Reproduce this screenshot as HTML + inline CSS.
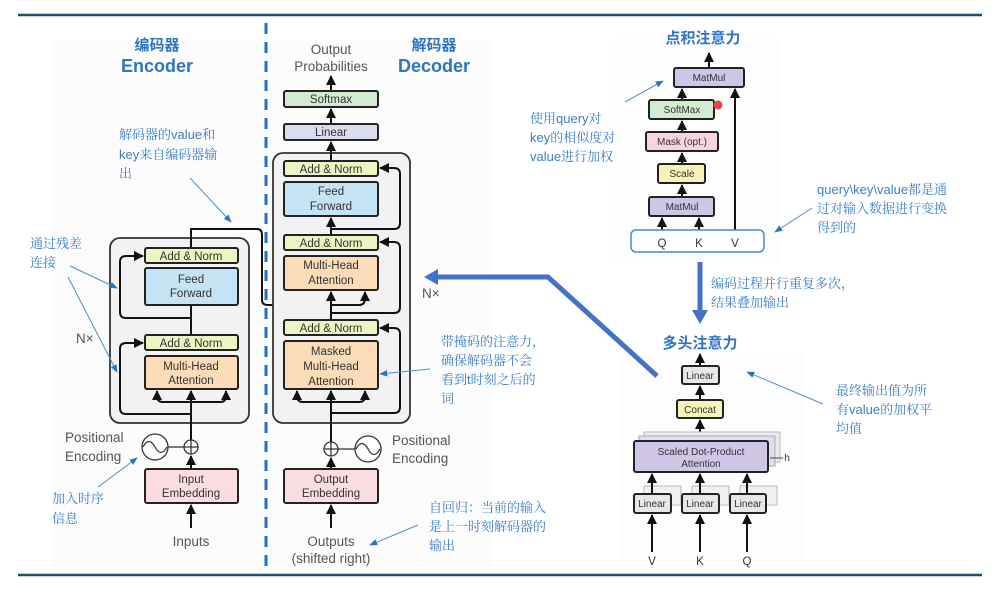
<!DOCTYPE html>
<html><head><meta charset="utf-8"><style>
html,body{margin:0;padding:0;background:#fff;}
svg{display:block;}
.b{font-family:"Liberation Sans",sans-serif;font-size:11.5px;fill:#333;text-anchor:middle;}
.s{font-family:"Liberation Sans",sans-serif;font-size:10px;fill:#333;text-anchor:middle;}
.g{font-family:"Liberation Sans",sans-serif;font-size:13.5px;fill:#555;}
.cn{font-family:"Liberation Sans","Noto Serif CJK SC","Noto Sans CJK SC",sans-serif;font-size:13px;fill:#3a7ec8;}
.t{font-family:"Liberation Sans","Noto Sans CJK SC",sans-serif;font-weight:bold;fill:#2e74c0;text-anchor:middle;}
.bx{stroke:#222;stroke-width:2;}
.ln{stroke:#111;stroke-width:2;fill:none;}
.an{stroke:#4a8fd6;stroke-width:1;fill:none;}
</style></head><body>
<svg width="999" height="593" viewBox="0 0 999 593" xmlns="http://www.w3.org/2000/svg">
<defs>
<marker id="a" viewBox="0 0 10 10" refX="9" refY="5" markerWidth="5" markerHeight="5" orient="auto"><path d="M0,0L10,5L0,10z" fill="#111"/></marker>
<marker id="ab" viewBox="0 0 10 10" refX="9" refY="5" markerWidth="8" markerHeight="8" orient="auto"><path d="M0,1L10,5L0,9z" fill="#2a72c8"/></marker>
<marker id="ak" viewBox="0 0 10 10" refX="5" refY="5" markerWidth="4" markerHeight="4" orient="auto"><path d="M0,0L10,5L0,10z" fill="#4472c4"/></marker>
</defs>
<rect x="53" y="40" width="434" height="528" fill="#fbfbfb"/>
<rect x="118" y="40" width="372" height="528" fill="#fcfcfc"/>
<rect x="615" y="38" width="164" height="226" fill="#fdfdfd"/>
<rect x="620" y="352" width="184" height="208" fill="#fdfdfd"/>
<line x1="18" y1="15" x2="982" y2="15" stroke="#1c4f74" stroke-width="2.5"/>
<line x1="18" y1="575" x2="982" y2="575" stroke="#1c4f74" stroke-width="2.5"/>
<line x1="266" y1="23" x2="266" y2="568" stroke="#1f6fc8" stroke-width="3" stroke-dasharray="11,8"/>

<!-- Encoder -->
<text x="157" y="50" class="t" font-size="15">编码器</text>
<text x="157" y="72" class="t" font-size="18">Encoder</text>
<rect x="110" y="238" width="139" height="185" rx="10" fill="#f2f2f2" stroke="#333" stroke-width="1.8"/>
<path class="ln" d="M191,248 V229 H257 Q262,229 262,235 V300 Q262,305 268,305 H290 Q297,305 297,298 V292" marker-end="url(#a)"/>
<path class="ln" d="M191,318 H126 Q120,318 120,312 V262 Q120,256 126,256 H143" marker-end="url(#a)"/>
<path class="ln" d="M191,414 H126 Q120,414 120,408 V349 Q120,343 126,343 H143" marker-end="url(#a)"/>
<line class="ln" x1="191" y1="440" x2="191" y2="391" marker-end="url(#a)"/>
<path class="ln" d="M191,402 H163 Q157,402 157,396 V391" marker-end="url(#a)"/>
<path class="ln" d="M191,402 H220 Q226,402 226,396 V391" marker-end="url(#a)"/>
<line class="ln" x1="191" y1="335" x2="191" y2="305"/>
<rect class="bx" x="145" y="248" width="93" height="15" rx="2" fill="#eef3c4"/><text x="191" y="260" class="b">Add &amp; Norm</text>
<rect class="bx" x="145" y="268" width="93" height="37" rx="2" fill="#c4e4f5"/><text x="191" y="283" class="b">Feed</text><text x="191" y="297" class="b">Forward</text>
<rect class="bx" x="145" y="335" width="93" height="15" rx="2" fill="#eef3c4"/><text x="191" y="347" class="b">Add &amp; Norm</text>
<rect class="bx" x="145" y="356" width="93" height="33" rx="2" fill="#fbdcb8"/><text x="191" y="370" class="b">Multi-Head</text><text x="191" y="384" class="b">Attention</text>
<text x="76" y="343" class="g">N×</text>
<circle cx="191" cy="447" r="7" fill="#fff" stroke="#333" stroke-width="1.3"/><path d="M184,447H198M191,440V454" stroke="#333" stroke-width="1.3"/>
<line x1="168" y1="447" x2="184" y2="447" stroke="#333" stroke-width="1.3"/>
<circle cx="155" cy="447" r="13" fill="#fff" stroke="#333" stroke-width="1.3"/><path d="M143,447 Q149,436 155,447 T167,447" stroke="#333" fill="none" stroke-width="1.3"/>
<text x="65" y="442" class="g">Positional</text><text x="65" y="461" class="g">Encoding</text>
<line class="ln" x1="191" y1="469" x2="191" y2="456" marker-end="url(#a)"/>
<rect class="bx" x="145" y="469" width="93" height="34" rx="2" fill="#f9dde0"/><text x="191" y="483" class="b">Input</text><text x="191" y="497" class="b">Embedding</text>
<line class="ln" x1="191" y1="528" x2="191" y2="505" marker-end="url(#a)"/>
<text x="191" y="546" class="g" text-anchor="middle">Inputs</text>

<!-- Decoder -->
<text x="331" y="54" class="g" text-anchor="middle">Output</text>
<text x="331" y="71" class="g" text-anchor="middle">Probabilities</text>
<text x="434" y="50" class="t" font-size="15">解码器</text>
<text x="434" y="72" class="t" font-size="18">Decoder</text>
<rect x="273" y="153" width="137" height="270" rx="10" fill="#f2f2f2" stroke="#333" stroke-width="1.8"/>
<line class="ln" x1="331" y1="91" x2="331" y2="76" marker-end="url(#a)"/>
<line class="ln" x1="331" y1="124" x2="331" y2="109" marker-end="url(#a)"/>
<line class="ln" x1="331" y1="161" x2="331" y2="142" marker-end="url(#a)"/>
<line class="ln" x1="331" y1="235" x2="331" y2="218" marker-end="url(#a)"/>
<line class="ln" x1="331" y1="320" x2="331" y2="305"/>
<path class="ln" d="M331,305 H359 Q365,305 365,298 V292" marker-end="url(#a)"/>
<line class="ln" x1="331" y1="305" x2="331" y2="292" marker-end="url(#a)"/>
<path class="ln" d="M331,229 H394 Q400,229 400,223 V174 Q400,168 394,168 H380" marker-end="url(#a)"/>
<path class="ln" d="M331,313 H394 Q400,313 400,307 V248 Q400,242 394,242 H380" marker-end="url(#a)"/>
<path class="ln" d="M331,413 H394 Q400,413 400,407 V334 Q400,328 394,328 H380" marker-end="url(#a)"/>
<line class="ln" x1="331" y1="442" x2="331" y2="391" marker-end="url(#a)"/>
<path class="ln" d="M331,402 H303 Q297,402 297,396 V391" marker-end="url(#a)"/>
<path class="ln" d="M331,402 H359 Q365,402 365,396 V391" marker-end="url(#a)"/>
<rect class="bx" x="284" y="91" width="94" height="16" rx="2" fill="#d3ebd3"/><text x="331" y="103" class="b">Softmax</text>
<rect class="bx" x="284" y="124" width="94" height="16" rx="2" fill="#dcdcf0"/><text x="331" y="136" class="b">Linear</text>
<rect class="bx" x="284" y="161" width="94" height="15" rx="2" fill="#eef3c4"/><text x="331" y="173" class="b">Add &amp; Norm</text>
<rect class="bx" x="284" y="182" width="94" height="34" rx="2" fill="#c4e4f5"/><text x="331" y="195" class="b">Feed</text><text x="331" y="210" class="b">Forward</text>
<rect class="bx" x="284" y="235" width="94" height="15" rx="2" fill="#eef3c4"/><text x="331" y="247" class="b">Add &amp; Norm</text>
<rect class="bx" x="284" y="256" width="94" height="34" rx="2" fill="#fbdcb8"/><text x="331" y="269" class="b">Multi-Head</text><text x="331" y="284" class="b">Attention</text>
<rect class="bx" x="284" y="320" width="94" height="15" rx="2" fill="#eef3c4"/><text x="331" y="332" class="b">Add &amp; Norm</text>
<rect class="bx" x="284" y="341" width="94" height="48" rx="2" fill="#fbdcb8"/><text x="331" y="355" class="b">Masked</text><text x="331" y="370" class="b">Multi-Head</text><text x="331" y="385" class="b">Attention</text>
<text x="422" y="298" class="g">N×</text>
<circle cx="331" cy="449" r="7" fill="#fff" stroke="#333" stroke-width="1.3"/><path d="M324,449H338M331,442V456" stroke="#333" stroke-width="1.3"/>
<line x1="338" y1="449" x2="355" y2="449" stroke="#333" stroke-width="1.3"/>
<circle cx="368" cy="449" r="13" fill="#fff" stroke="#333" stroke-width="1.3"/><path d="M356,449 Q362,438 368,449 T380,449" stroke="#333" fill="none" stroke-width="1.3"/>
<text x="392" y="445" class="g">Positional</text><text x="392" y="463" class="g">Encoding</text>
<line class="ln" x1="331" y1="469" x2="331" y2="458" marker-end="url(#a)"/>
<rect class="bx" x="284" y="469" width="94" height="34" rx="2" fill="#f9dde0"/><text x="331" y="483" class="b">Output</text><text x="331" y="497" class="b">Embedding</text>
<line class="ln" x1="331" y1="528" x2="331" y2="505" marker-end="url(#a)"/>
<text x="331" y="546" class="g" text-anchor="middle">Outputs</text>
<text x="331" y="563" class="g" text-anchor="middle">(shifted right)</text>

<!-- big blue arrows -->
<path d="M657,376 L548,277 H436" stroke="#4472c4" stroke-width="5" fill="none"/>
<path d="M424,277 L438,269 V285 Z" fill="#4472c4"/>
<line x1="700" y1="262" x2="700" y2="312" stroke="#4472c4" stroke-width="5"/>
<path d="M692,310 H708 L700,324 Z" fill="#4472c4"/>

<!-- dot product -->
<text x="703" y="43" class="t" font-size="15">点积注意力</text>
<line class="ln" x1="709" y1="68" x2="709" y2="53" marker-end="url(#a)"/>
<line class="ln" x1="682" y1="100" x2="682" y2="89" marker-end="url(#a)"/>
<line class="ln" x1="682" y1="132" x2="682" y2="121" marker-end="url(#a)"/>
<line class="ln" x1="682" y1="164" x2="682" y2="153" marker-end="url(#a)"/>
<line class="ln" x1="682" y1="197" x2="682" y2="185" marker-end="url(#a)"/>
<line class="ln" x1="662" y1="235" x2="662" y2="218" marker-end="url(#a)"/>
<line class="ln" x1="699" y1="235" x2="699" y2="218" marker-end="url(#a)"/>
<line class="ln" x1="735" y1="235" x2="735" y2="89" marker-end="url(#a)"/>
<rect class="bx" x="674" y="68" width="70" height="19" rx="2" fill="#cfc6e6"/><text x="709" y="81" class="s">MatMul</text>
<rect class="bx" x="649" y="100" width="65" height="19" rx="2" fill="#d3ebd3"/><text x="682" y="113" class="s">SoftMax</text>
<circle cx="718" cy="105" r="4.5" fill="#e0474c"/>
<rect class="bx" x="646" y="132" width="72" height="19" rx="2" fill="#f8d4e2"/><text x="682" y="145" class="s">Mask (opt.)</text>
<rect class="bx" x="658" y="164" width="47" height="19" rx="2" fill="#f7f3b8"/><text x="682" y="177" class="s">Scale</text>
<rect class="bx" x="649" y="197" width="65" height="19" rx="2" fill="#cfc6e6"/><text x="682" y="210" class="s">MatMul</text>
<rect x="631" y="230" width="133" height="22" rx="5" fill="#fff" stroke="#3f8ad8" stroke-width="1.5"/>
<text x="662" y="247" class="b" font-size="12">Q</text><text x="699" y="247" class="b" font-size="12">K</text><text x="735" y="247" class="b" font-size="12">V</text>

<!-- multi-head -->
<text x="700" y="348" class="t" font-size="15">多头注意力</text>
<line class="ln" x1="700" y1="366" x2="700" y2="354" marker-end="url(#a)"/>
<line class="ln" x1="700" y1="400" x2="700" y2="386" marker-end="url(#a)"/>
<line class="ln" x1="700" y1="441" x2="700" y2="420" marker-end="url(#a)"/>
<rect x="644" y="432" width="136" height="30" fill="#ece9f3" stroke="#bbb"/>
<rect x="639" y="436" width="136" height="30" fill="#e2ddef" stroke="#aaa"/>
<rect class="bx" x="634" y="441" width="134" height="31" rx="2" fill="#cfc6e6"/>
<text x="701" y="455" class="s">Scaled Dot-Product</text><text x="701" y="467" class="s">Attention</text>
<text x="787" y="461" class="s" fill="#555">h</text>
<line x1="770" y1="458" x2="783" y2="458" stroke="#444" stroke-width="1"/>
<rect class="bx" x="682" y="366" width="37" height="18" rx="2" fill="#e6e8e8"/><text x="700" y="379" class="s">Linear</text>
<rect class="bx" x="677" y="400" width="46" height="18" rx="2" fill="#f7f3b8"/><text x="700" y="413" class="s">Concat</text>
<g fill="#f0f0f0" stroke="#bbb">
<rect x="644" y="486" width="37" height="19"/><rect x="692" y="486" width="37" height="19"/><rect x="740" y="486" width="37" height="19"/>
</g>
<line class="ln" x1="652" y1="494" x2="652" y2="474" marker-end="url(#a)"/>
<line class="ln" x1="700" y1="494" x2="700" y2="474" marker-end="url(#a)"/>
<line class="ln" x1="747" y1="494" x2="747" y2="474" marker-end="url(#a)"/>
<rect class="bx" x="634" y="494" width="37" height="19" rx="2" fill="#e6e8e8"/><text x="652" y="507" class="s">Linear</text>
<rect class="bx" x="682" y="494" width="37" height="19" rx="2" fill="#e6e8e8"/><text x="700" y="507" class="s">Linear</text>
<rect class="bx" x="730" y="494" width="36" height="19" rx="2" fill="#e6e8e8"/><text x="748" y="507" class="s">Linear</text>
<line class="ln" x1="652" y1="552" x2="652" y2="515" marker-end="url(#a)"/>
<line class="ln" x1="700" y1="552" x2="700" y2="515" marker-end="url(#a)"/>
<line class="ln" x1="747" y1="552" x2="747" y2="515" marker-end="url(#a)"/>
<text x="652" y="565" class="b">V</text><text x="700" y="565" class="b">K</text><text x="747" y="565" class="b">Q</text>

<!-- annotations -->
<text class="cn" x="119" y="139">解码器的value和</text>
<text class="cn" x="119" y="159">key来自编码器输</text>
<text class="cn" x="119" y="178">出</text>
<line class="an" x1="190" y1="178" x2="231" y2="222" marker-end="url(#ab)"/>
<text class="cn" x="30" y="248">通过残差</text>
<text class="cn" x="30" y="267">连接</text>
<line class="an" x1="70" y1="266" x2="117" y2="288" marker-end="url(#ab)"/>
<line class="an" x1="68" y1="277" x2="117" y2="372" marker-end="url(#ab)"/>
<text class="cn" x="52" y="503">加入时序</text>
<text class="cn" x="52" y="523">信息</text>
<line class="an" x1="98" y1="487" x2="137" y2="458" marker-end="url(#ab)"/>
<text class="cn" x="441" y="346">带掩码的注意力，</text>
<text class="cn" x="441" y="365">确保解码器不会</text>
<text class="cn" x="441" y="384">看到t时刻之后的</text>
<text class="cn" x="441" y="403">词</text>
<line class="an" x1="430" y1="369" x2="380" y2="374" marker-end="url(#ab)"/>
<text class="cn" x="429" y="512">自回归：当前的输入</text>
<text class="cn" x="429" y="531">是上一时刻解码器的</text>
<text class="cn" x="429" y="550">输出</text>
<line class="an" x1="418" y1="525" x2="370" y2="545" marker-end="url(#ab)"/>
<text class="cn" x="530" y="123">使用query对</text>
<text class="cn" x="530" y="142">key的相似度对</text>
<text class="cn" x="530" y="161">value进行加权</text>
<line class="an" x1="625" y1="102" x2="663" y2="81" marker-end="url(#ab)"/>
<text class="cn" x="817" y="194">query\key\value都是通</text>
<text class="cn" x="817" y="213">过对输入数据进行变换</text>
<text class="cn" x="817" y="232">得到的</text>
<line class="an" x1="812" y1="208" x2="775" y2="232" marker-end="url(#ab)"/>
<text class="cn" x="711" y="288">编码过程并行重复多次，</text>
<text class="cn" x="711" y="307">结果叠加输出</text>
<text class="cn" x="836" y="395">最终输出值为所</text>
<text class="cn" x="836" y="414">有value的加权平</text>
<text class="cn" x="836" y="433">均值</text>
<line class="an" x1="823" y1="404" x2="747" y2="372" marker-end="url(#ab)"/>
</svg>
</body></html>
